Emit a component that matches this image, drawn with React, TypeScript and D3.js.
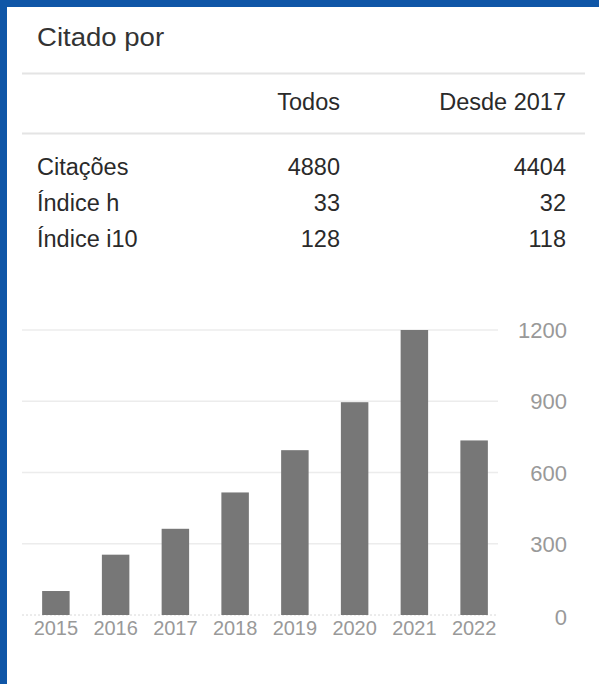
import React from "react";
import * as d3 from "d3";

const years = ["2015", "2016", "2017", "2018", "2019", "2020", "2021", "2022"];
const citations = [101, 254, 363, 516, 694, 896, 1200, 735];
const yTicks = [0, 300, 600, 900, 1200];

const tableHeaders = ["Todos", "Desde 2017"];
const rowLabels = ["Citações", "Índice h", "Índice i10"];
const allValues = ["4880", "33", "128"];
const sinceValues = ["4404", "32", "118"];

const W = 599;
const H = 684;
const FONT = "'Liberation Sans', Arial, Helvetica, sans-serif";

export default function App() {
  const x = d3.scaleBand<string>().domain(years).range([26, 504]).paddingInner(0.54).paddingOuter(0.27);
  const y = d3.scaleLinear().domain([0, 1200]).range([615, 330]);
  const colX = [340, 566];
  const rowY = [175, 211, 247];

  return (
    <div style={{ position: "fixed", left: 0, top: 0 }}>
      <svg width={W} height={H} style={{ display: "block", background: "#fff" }}>
        <rect x={0} y={0} width={W} height={7} fill="#0f56a7" />
        <rect x={0} y={0} width={7} height={H} fill="#0f56a7" />

        <text x={37} y={46} fontFamily={FONT} fontSize={26} fill="#333" transform="translate(37,0) scale(1.06,1) translate(-37,0)">Citado por</text>

        <line x1={22} x2={585} y1={73.5} y2={73.5} stroke="#e4e4e4" strokeWidth={2} />
        <line x1={22} x2={585} y1={133.5} y2={133.5} stroke="#e4e4e4" strokeWidth={2} />

        {tableHeaders.map((h, i) => (
          <text key={h} x={colX[i]} y={110} textAnchor="end" fontFamily={FONT} fontSize={23.5} fill="#2a2a2a">{h}</text>
        ))}
        {rowLabels.map((r, i) => (
          <g key={r}>
            <text x={37} y={rowY[i]} fontFamily={FONT} fontSize={23.5} fill="#2a2a2a">{r}</text>
            <text x={colX[0]} y={rowY[i]} textAnchor="end" fontFamily={FONT} fontSize={23.5} fill="#2a2a2a">{allValues[i]}</text>
            <text x={colX[1]} y={rowY[i]} textAnchor="end" fontFamily={FONT} fontSize={23.5} fill="#2a2a2a">{sinceValues[i]}</text>
          </g>
        ))}

        {yTicks.filter((t) => t > 0).map((t) => (
          <line key={t} x1={22} x2={498} y1={y(t)} y2={y(t)} stroke="#ececec" strokeWidth={1.5} />
        ))}
        <line x1={22} x2={498} y1={y(0)} y2={y(0)} stroke="#d8d8d8" strokeWidth={1} strokeDasharray="2,2" />

        {citations.map((v, i) => (
          <rect key={years[i]} x={x(years[i])} y={y(v)} width={x.bandwidth()} height={y(0) - y(v)} fill="#777" />
        ))}

        {years.map((yr) => (
          <text key={yr} x={(x(yr) ?? 0) + x.bandwidth() / 2} y={635} textAnchor="middle" fontFamily={FONT} fontSize={20} fill="#999">{yr}</text>
        ))}

        {yTicks.map((t) => (
          <text key={t} x={567} y={y(t) + 8 + (t === 0 ? 2 : 0)} textAnchor="end" fontFamily={FONT} fontSize={22} fill="#999">{t}</text>
        ))}
      </svg>
    </div>
  );
}
